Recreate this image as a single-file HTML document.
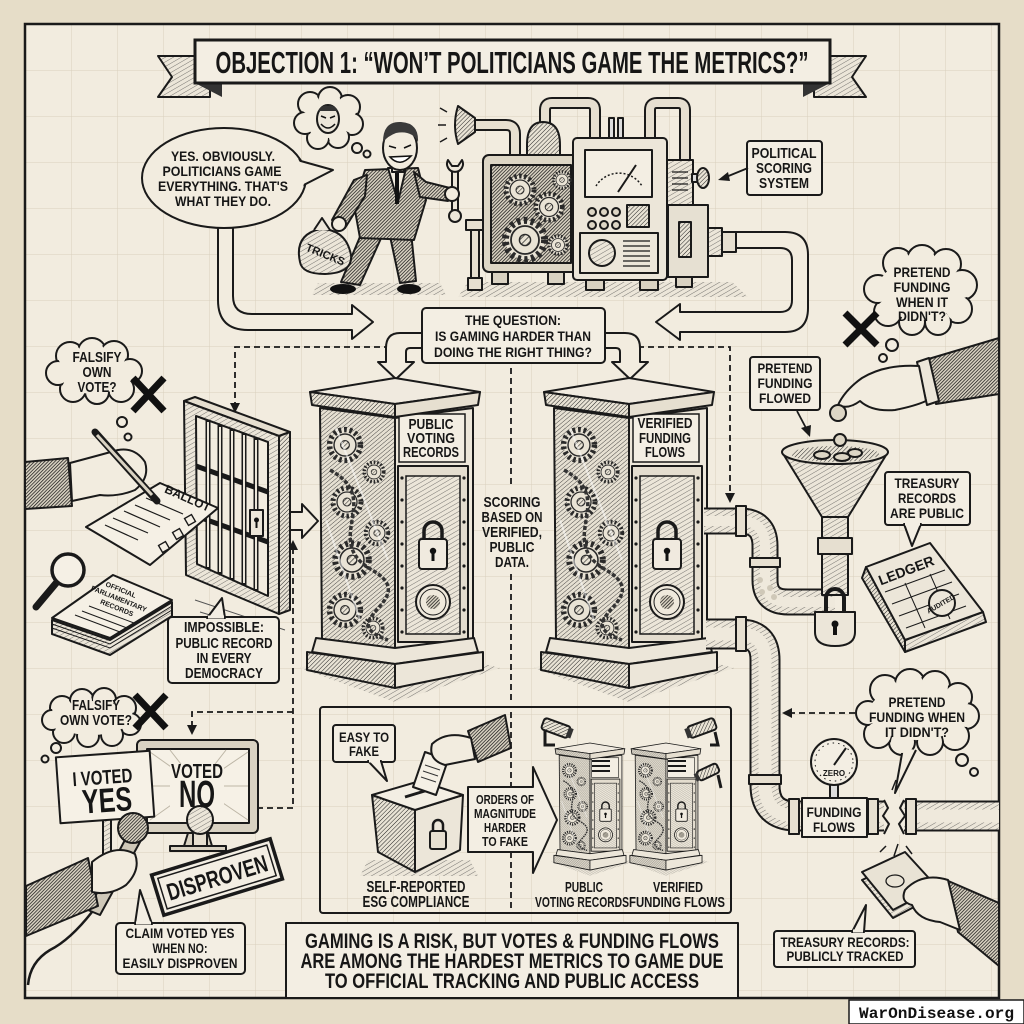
<!DOCTYPE html>
<html><head><meta charset="utf-8">
<style>
html,body{margin:0;padding:0;background:#e6ddc8;width:1024px;height:1024px;overflow:hidden}
svg{display:block}
.t{font-family:"Liberation Sans Narrow","Liberation Sans",sans-serif;font-weight:700;fill:#161616;text-anchor:middle}
.s{stroke:#1a1a1a;stroke-width:2;stroke-linejoin:round}
.d{fill:none;stroke:#1a1a1a;stroke-width:1.8;stroke-dasharray:6 4}
</style></head><body>
<svg width="1024" height="1024" viewBox="0 0 1024 1024" xmlns="http://www.w3.org/2000/svg">
<defs>
<pattern id="h" width="3" height="3" patternUnits="userSpaceOnUse" patternTransform="rotate(45)"><rect width="3" height="3" fill="#e9e3d5"/><line x1="0" y1="0" x2="0" y2="3" stroke="#222" stroke-width="1"/></pattern>
<pattern id="hd" width="2.4" height="2.4" patternUnits="userSpaceOnUse" patternTransform="rotate(45)"><rect width="2.4" height="2.4" fill="#d9d2c2"/><line x1="0" y1="0" x2="0" y2="2.4" stroke="#111" stroke-width="1.4"/></pattern>
<pattern id="hl" width="4" height="4" patternUnits="userSpaceOnUse" patternTransform="rotate(60)"><rect width="4" height="4" fill="#ece6d9"/><line x1="0" y1="0" x2="0" y2="4" stroke="#444" stroke-width="0.7"/></pattern>
<pattern id="hm" width="3.2" height="3.2" patternUnits="userSpaceOnUse" patternTransform="rotate(50)"><rect width="3.2" height="3.2" fill="#e6e0d2"/><line x1="0" y1="0" x2="0" y2="3.2" stroke="#333" stroke-width="0.85"/></pattern>
<pattern id="grid" width="46" height="46" patternUnits="userSpaceOnUse" x="26" y="25"><path d="M46,0 L46,46 M0,46 L46,46" stroke="#d9d0bd" stroke-width="1" fill="none"/></pattern>
<g id="gear"><circle r="14" fill="#e9e3d5" stroke="#2a2a2a" stroke-width="5" stroke-dasharray="2.5 2.5"/><circle r="10" fill="none" stroke="#2a2a2a" stroke-width="1.3"/><circle r="4" fill="url(#h)" stroke="#2a2a2a" stroke-width="1"/></g>
<g id="pl">
 <path d="M300,668 L395,702 L500,668 L470,660 L320,660Z" fill="url(#hl)"/>
 <polygon points="320,408 395,418 395,650 322,640" fill="url(#hm)" class="s"/>
 <use href="#gear" transform="translate(345,445) scale(1.1)"/>
 <use href="#gear" transform="translate(374,472) scale(0.7)"/>
 <use href="#gear" transform="translate(347,502)"/>
 <use href="#gear" transform="translate(352,560) scale(1.2)"/>
 <use href="#gear" transform="translate(377,533) scale(0.8)"/>
 <use href="#gear" transform="translate(345,610) scale(1.1)"/>
 <use href="#gear" transform="translate(373,628) scale(0.7)"/>
 <path d="M330,470 C385,500 320,540 372,570 S330,620 388,640" fill="none" stroke="#333" stroke-width="3.5" stroke-dasharray="4 2"/>
 <path d="M336,428 L388,560 M326,520 L360,620" stroke="#fff" stroke-width="2" opacity="0.5"/>
 <polygon points="395,418 473,408 473,640 395,650" fill="#ede7da" class="s"/>
 <rect x="399" y="414" width="66" height="48" fill="#f3eee3" stroke="#1a1a1a" stroke-width="1.5"/>
 <rect x="398" y="466" width="70" height="176" fill="#e4ddcf" class="s"/>
 <rect x="406" y="476" width="54" height="158" fill="url(#hl)" stroke="#1a1a1a" stroke-width="1.5"/>
 <g fill="#1a1a1a"><circle cx="402" cy="478" r="1.6"/><circle cx="402" cy="500" r="1.6"/><circle cx="402" cy="522" r="1.6"/><circle cx="402" cy="544" r="1.6"/><circle cx="402" cy="566" r="1.6"/><circle cx="402" cy="588" r="1.6"/><circle cx="402" cy="610" r="1.6"/><circle cx="402" cy="632" r="1.6"/><circle cx="464" cy="478" r="1.6"/><circle cx="464" cy="500" r="1.6"/><circle cx="464" cy="522" r="1.6"/><circle cx="464" cy="544" r="1.6"/><circle cx="464" cy="566" r="1.6"/><circle cx="464" cy="588" r="1.6"/><circle cx="464" cy="610" r="1.6"/><circle cx="464" cy="632" r="1.6"/></g>
 <path d="M424,542 L424,531 A9,9 0 0 1 442,531 L442,542" fill="none" stroke="#1a1a1a" stroke-width="3.5"/>
 <rect x="419" y="539" width="28" height="30" rx="3" fill="#f0eadf" class="s"/>
 <circle cx="433" cy="551" r="3.2" fill="#111"/><rect x="431.5" y="552" width="3" height="9" fill="#111"/>
 <circle cx="433" cy="602" r="17" fill="#efe9dc" class="s"/><circle cx="433" cy="602" r="13" fill="none" stroke="#1a1a1a" stroke-width="1"/><circle cx="433" cy="602" r="7" fill="url(#hd)"/>
 <polygon points="310,392 395,378 480,392 395,404" fill="#f0eadf" class="s"/>
 <polygon points="310,392 395,404 395,417 312,405" fill="url(#h)" class="s"/>
 <polygon points="395,404 480,392 478,405 395,417" fill="#e6dfd0" class="s"/>
 <polygon points="316,638 395,648 474,638 478,652 395,664 312,652" fill="#ece6d9" class="s"/>
 <polygon points="307,652 395,664 395,688 307,670" fill="url(#h)" class="s"/>
 <polygon points="395,664 483,652 483,670 395,688" fill="#ece6d9" class="s"/>
</g>
</defs>

<rect width="1024" height="1024" fill="#e6ddc8"/>
<rect x="25" y="24" width="974" height="974" fill="#f2ecdf"/>
<rect x="25" y="24" width="974" height="974" fill="url(#grid)"/>
<rect x="25" y="24" width="974" height="974" fill="none" stroke="#1a1a1a" stroke-width="2.5"/>

<!-- banner -->
<polygon points="158,56 210,56 210,97 158,97 172,77" fill="url(#hl)" class="s" stroke-width="2.5"/>
<polygon points="814,56 866,56 852,77 866,97 814,97" fill="url(#hl)" class="s" stroke-width="2.5"/>
<polygon points="195,83 222,97 222,83" fill="#333"/>
<polygon points="830,83 803,97 803,83" fill="#333"/>
<rect x="195" y="40" width="635" height="43" fill="#f3eee3" stroke="#1a1a1a" stroke-width="3"/>
<text class="t" x="512" y="73" font-size="31" textLength="593" lengthAdjust="spacingAndGlyphs">OBJECTION 1: “WON’T POLITICIANS GAME THE METRICS?”</text>

<!-- dashed connectors -->
<path class="d" d="M390,347 L235,347 L235,404"/>
<polygon points="230,403 240,403 235,413" fill="#1a1a1a"/>
<path class="d" d="M638,347 L730,347 L730,494"/>
<polygon points="725,493 735,493 730,503" fill="#1a1a1a"/>
<path class="d" d="M511,368 L511,484 M511,574 L511,700"/>
<path class="d" d="M293,548 L293,808 L258,808 M293,712 L192,712 L192,726"/>
<polygon points="288,550 298,550 293,540" fill="#1a1a1a"/>
<polygon points="187,725 197,725 192,735" fill="#1a1a1a"/>
<path class="d" d="M855,713 L790,713"/>
<polygon points="792,708 792,718 782,713" fill="#1a1a1a"/>

<!-- big hollow arrows -->
<path d="M218,222 L218,300 Q218,330 248,330 L352,330 L352,339 L373,322 L352,305 L352,314 L252,314 Q233,314 233,296 L233,222 Z" fill="#f2ecdf" class="s"/>
<path d="M735,232 L785,232 Q808,232 808,255 L808,308 Q808,332 785,332 L680,332 L680,340 L656,322 L680,304 L680,312 L780,312 Q792,312 792,300 L792,260 Q792,248 780,248 L735,248 Z" fill="#f2ecdf" class="s"/>

<!-- speech bubble -->
<ellipse cx="224" cy="178" rx="82" ry="50" fill="#f2ecdf" class="s" stroke-width="2.2"/>
<polygon points="290,158 333,170 294,190" fill="#f2ecdf" class="s" stroke-width="2.2"/>
<ellipse cx="224" cy="178" rx="80.5" ry="48.5" fill="#f2ecdf"/>
<polygon points="284,162 296,164 290,186 282,186" fill="#f2ecdf"/>

<!-- devil thought cloud -->
<g fill="#f2ecdf" class="s"><circle cx="310" cy="104" r="12"/><circle cx="330" cy="99" r="12"/><circle cx="348" cy="107" r="12"/><circle cx="352" cy="124" r="11"/><circle cx="338" cy="137" r="11"/><circle cx="318" cy="138" r="11"/><circle cx="305" cy="123" r="11"/></g>
<g fill="#f2ecdf"><circle cx="310" cy="104" r="10"/><circle cx="330" cy="99" r="10"/><circle cx="348" cy="107" r="10"/><circle cx="352" cy="124" r="9"/><circle cx="338" cy="137" r="9"/><circle cx="318" cy="138" r="9"/><circle cx="305" cy="123" r="9"/><ellipse cx="328" cy="119" rx="24" ry="19"/></g>
<ellipse cx="328" cy="119" rx="11" ry="14" fill="#ece6d9" class="s" stroke-width="1.5"/>
<path d="M318,111 Q322,104 328,106 Q334,104 338,111" fill="#333"/>
<path d="M321,116 L326,118 M335,116 L330,118 M321,124 Q328,132 335,124" fill="none" stroke="#111" stroke-width="1.5"/>
<circle cx="357" cy="148" r="5" fill="#f2ecdf" class="s" stroke-width="1.5"/>
<circle cx="367" cy="154" r="3.5" fill="#f2ecdf" class="s" stroke-width="1.5"/>

<!-- man -->
<path d="M318,283 L440,283 L446,295 L312,295 Z" fill="url(#hl)"/>
<polygon points="362,232 382,236 360,285 341,282" fill="url(#hd)" class="s"/>
<polygon points="390,236 411,232 416,281 400,283" fill="url(#hd)" class="s"/>
<ellipse cx="343" cy="289" rx="13" ry="5" fill="#111"/>
<ellipse cx="409" cy="289" rx="12" ry="5" fill="#111"/>
<polygon points="365,170 418,168 426,200 414,240 360,238 354,205" fill="url(#hd)" class="s"/>
<polygon points="388,168 406,168 398,202" fill="#f2ecdf" class="s" stroke-width="1.2"/>
<line x1="397" y1="172" x2="397" y2="204" stroke="#111" stroke-width="4"/>
<polygon points="367,175 354,180 332,220 345,228 365,196" fill="url(#hd)" class="s"/>
<polygon points="414,172 426,182 450,188 448,201 420,197" fill="url(#hd)" class="s"/>
<path d="M300,262 Q294,235 320,229 Q346,229 351,255 Q353,273 325,274 Q302,274 300,262 Z" fill="url(#hl)" class="s"/>
<path d="M314,230 L322,218 L330,230" fill="#ece6d9" class="s" stroke-width="1.5"/>
<text class="t" font-size="11" transform="translate(324,258) rotate(22)">TRICKS</text>
<circle cx="339" cy="224" r="7" fill="#f2ecdf" class="s"/>
<rect x="452" y="168" width="6" height="46" fill="#ece6d9" class="s" stroke-width="1.5"/>
<path d="M448,160 A8,8 0 1 0 462,160 L458,166 L452,166 Z" fill="#ece6d9" class="s" stroke-width="1.8"/>
<circle cx="455" cy="216" r="6" fill="#ece6d9" class="s" stroke-width="1.8"/>
<circle cx="452" cy="194" r="7" fill="#f2ecdf" class="s"/>
<rect x="392" y="160" width="12" height="12" fill="#f2ecdf" class="s" stroke-width="1.5"/>
<ellipse cx="400" cy="148" rx="17" ry="22" fill="#f2ecdf" class="s"/>
<path d="M383,142 Q383,121 401,122 Q419,123 418,142 Q412,130 396,133 Q388,136 383,142 Z" fill="#3a3a3a"/>
<path d="M389,146 L396,148 M404,148 L411,145 M390,157 Q400,168 411,156 Z" fill="#fff" stroke="#111" stroke-width="1.6"/>

<!-- machine -->
<path d="M468,282 L732,282 L748,297 L458,297 Z" fill="url(#hl)"/>
<path d="M473,125 L506,125 Q515,125 515,134 L515,158" fill="none" stroke="#1a1a1a" stroke-width="12"/>
<path d="M473,125 L506,125 Q515,125 515,134 L515,158" fill="none" stroke="#e6dfd0" stroke-width="8"/>
<path d="M458,106 L475,118 L475,132 L458,144 Q452,125 458,106 Z" fill="url(#h)" class="s"/>
<path d="M447,112 L440,108 M446,125 L438,125 M447,138 L440,142" stroke="#1a1a1a" stroke-width="1.5"/>
<path d="M545,142 L545,110 Q545,103 552,103 L588,103 Q595,103 595,110 L595,142" fill="none" stroke="#1a1a1a" stroke-width="12"/>
<path d="M545,142 L545,110 Q545,103 552,103 L588,103 Q595,103 595,110 L595,142" fill="none" stroke="#e6dfd0" stroke-width="8"/>
<path d="M650,142 L650,110 Q650,103 657,103 L678,103 Q685,103 685,110 L685,162" fill="none" stroke="#1a1a1a" stroke-width="12"/>
<path d="M650,142 L650,110 Q650,103 657,103 L678,103 Q685,103 685,110 L685,162" fill="none" stroke="#e6dfd0" stroke-width="8"/>
<path d="M527,157 L527,145 Q527,122 543,122 Q560,122 560,145 L560,157 Z" fill="url(#h)" class="s"/>
<rect x="609" y="118" width="5" height="20" fill="#ddd" class="s" stroke-width="1.5"/>
<rect x="618" y="118" width="5" height="20" fill="#ddd" class="s" stroke-width="1.5"/>
<path d="M475,226 L475,285" stroke="#1a1a1a" stroke-width="10"/>
<path d="M475,226 L475,285" stroke="#e6dfd0" stroke-width="6"/>
<rect x="466" y="220" width="20" height="10" fill="#e6dfd0" class="s"/>
<rect x="468" y="278" width="14" height="12" fill="#e6dfd0" class="s"/>
<rect x="483" y="155" width="95" height="117" rx="6" fill="#ddd6c5" class="s" stroke-width="2.5"/>
<rect x="491" y="165" width="80" height="98" fill="url(#hd)" class="s"/>
<use href="#gear" transform="translate(520,190)"/>
<use href="#gear" transform="translate(549,207) scale(0.95)"/>
<use href="#gear" transform="translate(525,240) scale(1.4)"/>
<use href="#gear" transform="translate(558,245) scale(0.65)"/>
<use href="#gear" transform="translate(562,180) scale(0.6)"/>
<rect x="573" y="138" width="94" height="142" rx="4" fill="#ece6d9" class="s" stroke-width="2.5"/>
<rect x="585" y="150" width="67" height="47" fill="#f3eee3" class="s"/>
<path d="M596,186 A27,27 0 0 1 642,186" fill="none" stroke="#1a1a1a" stroke-width="1.5" stroke-dasharray="2 2"/>
<line x1="618" y1="192" x2="636" y2="165" stroke="#1a1a1a" stroke-width="2"/>
<g fill="#ddd6c5" class="s" stroke-width="1.5"><circle cx="592" cy="212" r="4"/><circle cx="604" cy="212" r="4"/><circle cx="616" cy="212" r="4"/><circle cx="592" cy="225" r="4"/><circle cx="604" cy="225" r="4"/><circle cx="616" cy="225" r="4"/></g>
<rect x="627" y="205" width="22" height="22" fill="url(#h)" class="s" stroke-width="1.5"/>
<rect x="580" y="233" width="78" height="40" fill="#ece6d9" class="s"/>
<circle cx="602" cy="253" r="13" fill="url(#hl)" class="s"/>
<path d="M623,241 H650 M623,246 H650 M623,251 H650 M623,256 H650 M623,261 H650 M623,266 H650" stroke="#1a1a1a" stroke-width="1.2"/>
<rect x="667" y="160" width="26" height="115" fill="url(#hl)" class="s"/>
<path d="M672,172 H688 M672,178 H688 M672,184 H688 M672,190 H688" stroke="#1a1a1a" stroke-width="1.3"/>
<rect x="668" y="205" width="40" height="72" fill="#e6e0d2" class="s"/>
<rect x="679" y="222" width="12" height="35" fill="url(#h)" class="s" stroke-width="1.5"/>
<rect x="692" y="174" width="8" height="8" fill="#ddd" class="s" stroke-width="1.5"/>
<ellipse cx="703" cy="178" rx="6" ry="10" fill="url(#h)" class="s"/>
<rect x="708" y="228" width="14" height="28" fill="url(#hl)" class="s"/>
<rect x="722" y="232" width="14" height="20" fill="#e6dfd0" class="s"/>
<g fill="#d9d2c2" class="s"><rect x="492" y="272" width="16" height="12"/><rect x="548" y="272" width="16" height="12"/><rect x="586" y="280" width="18" height="10"/><rect x="640" y="280" width="18" height="10"/><rect x="676" y="277" width="16" height="10"/></g>

<!-- political scoring box -->
<rect x="747" y="141" width="75" height="54" rx="3" fill="#f3eee3" class="s"/>
<line x1="748" y1="168" x2="726" y2="177" stroke="#1a1a1a" stroke-width="1.8"/>
<polygon points="718,180 728,172 730,181" fill="#1a1a1a"/>

<!-- question box & arrows -->
<path d="M422,333 L400,333 Q386,333 386,348 L386,362 L378,362 L396,379 L414,362 L406,362 L406,352 Q406,348 410,348 L422,348 Z" fill="#f2ecdf" class="s"/>
<path d="M605,333 L625,333 Q640,333 640,348 L640,362 L648,362 L630,379 L612,362 L620,362 L620,352 Q620,348 616,348 L605,348 Z" fill="#f2ecdf" class="s"/>
<rect x="422" y="308" width="183" height="55" rx="4" fill="#f3eee3" class="s" stroke-width="2.2"/>

<!-- pillars -->
<use href="#pl"/>
<use href="#pl" x="234"/>

<!-- arrow jail->pillar -->
<polygon points="285,512 302,512 302,504 318,521 302,538 302,530 285,530" fill="#f2ecdf" class="s"/>

<!-- pipes -->
<path d="M706,634 L740,634 Q765,634 765,660 L765,785 Q765,816 796,816 L999,816" fill="none" stroke="#1a1a1a" stroke-width="31"/>
<path d="M706,634 L740,634 Q765,634 765,660 L765,785 Q765,816 796,816 L999,816" fill="none" stroke="url(#hl)" stroke-width="27"/>
<path d="M706,634 L740,634 Q765,634 765,660 L765,785 Q765,816 796,816 L999,816" fill="none" stroke="#efe9dc" stroke-width="13"/>
<path d="M704,521 L740,521 Q765,521 765,546 L765,580 Q765,602 788,602 L835,602" fill="none" stroke="#1a1a1a" stroke-width="27"/>
<path d="M704,521 L740,521 Q765,521 765,546 L765,580 Q765,602 788,602 L835,602" fill="none" stroke="url(#hl)" stroke-width="23"/>
<path d="M704,521 L740,521 Q765,521 765,546 L765,580 Q765,602 788,602 L835,602" fill="none" stroke="#efe9dc" stroke-width="10"/>
<g fill="#e6dfd0" class="s"><rect x="736" y="506" width="10" height="30"/><rect x="750" y="558" width="30" height="9"/><rect x="736" y="617" width="10" height="34"/><rect x="749" y="775" width="32" height="9"/><rect x="789" y="799" width="10" height="35"/><rect x="868" y="799" width="10" height="35"/><rect x="906" y="799" width="10" height="35"/></g>
<g fill="#cfc8b8"><circle cx="760" cy="580" r="3"/><circle cx="770" cy="588" r="3"/><circle cx="762" cy="592" r="3"/><circle cx="774" cy="597" r="3"/></g>
<rect x="884" y="797" width="20" height="38" fill="#f2ecdf"/>
<path d="M884,800 L888,808 L883,816 L889,824 L884,834 M904,800 L900,808 L905,816 L899,824 L904,834" fill="none" stroke="#1a1a1a" stroke-width="2"/>
<path d="M892,790 L896,780 M898,844 L894,856 M906,846 L912,854 M886,846 L880,852" stroke="#1a1a1a" stroke-width="1.5"/>
<rect x="802" y="798" width="65" height="39" fill="#f3eee3" class="s"/>
<rect x="830" y="783" width="8" height="15" fill="#ddd" class="s" stroke-width="1.5"/>
<circle cx="834" cy="762" r="23" fill="#f3eee3" class="s" stroke-width="2.5"/>
<circle cx="834" cy="762" r="19" fill="none" stroke="#1a1a1a" stroke-width="1" stroke-dasharray="1.5 4"/>
<line x1="834" y1="765" x2="846" y2="748" stroke="#1a1a1a" stroke-width="2"/>
<text class="t" x="834" y="776" font-size="8">ZERO</text>

<!-- funnel -->
<rect x="822" y="515" width="26" height="80" fill="url(#hl)" class="s"/>
<rect x="818" y="538" width="34" height="16" fill="#e6dfd0" class="s"/>
<polygon points="782,452 888,452 848,517 822,517" fill="url(#hl)" class="s"/>
<ellipse cx="835" cy="452" rx="53" ry="12" fill="#e9e3d5" class="s"/>
<ellipse cx="835" cy="454" rx="44" ry="8" fill="url(#h)"/>
<g fill="#ddd6c5" class="s" stroke-width="1.2"><ellipse cx="822" cy="455" rx="8" ry="4"/><ellipse cx="842" cy="457" rx="8" ry="4"/><ellipse cx="855" cy="453" rx="7" ry="4"/></g>
<circle cx="840" cy="440" r="6" fill="#ddd6c5" class="s" stroke-width="1.5"/>
<path d="M826,612 L826,598 A9,9 0 0 1 844,598 L844,612" fill="none" stroke="#1a1a1a" stroke-width="4"/>
<path d="M815,612 L855,612 L855,632 Q855,646 835,646 Q815,646 815,632 Z" fill="#ece6d9" class="s"/>
<circle cx="835" cy="624" r="3.5" fill="#111"/><rect x="833" y="625" width="4" height="10" fill="#111"/>

<!-- top right hand and cloud -->
<g fill="#f2ecdf" class="s"><circle cx="898" cy="263" r="15"/><circle cx="922" cy="260" r="15"/><circle cx="946" cy="264" r="15"/><circle cx="962" cy="285" r="15"/><circle cx="958" cy="309" r="14"/><circle cx="938" cy="322" r="13"/><circle cx="912" cy="322" r="13"/><circle cx="888" cy="312" r="14"/><circle cx="878" cy="289" r="14"/></g>
<g fill="#f2ecdf"><circle cx="898" cy="263" r="13"/><circle cx="922" cy="260" r="13"/><circle cx="946" cy="264" r="13"/><circle cx="962" cy="285" r="13"/><circle cx="958" cy="309" r="12"/><circle cx="938" cy="322" r="11"/><circle cx="912" cy="322" r="11"/><circle cx="888" cy="312" r="12"/><circle cx="878" cy="289" r="12"/><ellipse cx="920" cy="290" rx="42" ry="30"/></g>
<circle cx="892" cy="345" r="6" fill="#f2ecdf" class="s" stroke-width="1.6"/>
<circle cx="883" cy="358" r="4" fill="#f2ecdf" class="s" stroke-width="1.6"/>
<path d="M845,313 L877,345 M877,313 L845,345" stroke="#111" stroke-width="7"/>
<polygon points="925,360 999,338 999,394 936,404" fill="url(#hd)" class="s"/>
<polygon points="917,362 929,358 939,401 927,405" fill="#ece6d9" class="s"/>
<path d="M919,366 Q885,364 862,378 Q845,390 838,405 Q848,410 860,401 Q872,412 895,410 Q915,406 926,401 Z" fill="#f2ecdf" class="s"/>
<circle cx="838" cy="413" r="8" fill="#ddd6c5" class="s" stroke-width="1.6"/>
<rect x="750" y="357" width="70" height="53" rx="3" fill="#f3eee3" class="s"/>
<line x1="797" y1="411" x2="806" y2="428" stroke="#1a1a1a" stroke-width="1.8"/>
<polygon points="801,428 811,425 810,437" fill="#1a1a1a"/>

<!-- treasury & ledger -->
<rect x="885" y="472" width="85" height="53" rx="3" fill="#f3eee3" class="s"/>
<polygon points="904,524 912,546 921,524" fill="#f3eee3" class="s"/>
<line x1="905" y1="524" x2="920" y2="524" stroke="#f3eee3" stroke-width="3"/>
<polygon points="866,567 905,640 905,652 862,578" fill="url(#h)" class="s"/>
<polygon points="905,640 983,612 986,622 905,652" fill="url(#hl)" class="s"/>
<polygon points="866,567 930,543 983,612 905,640" fill="#ece6d9" class="s" stroke-width="2.2"/>
<path d="M885,592 L945,570 M892,604 L952,582 M899,616 L959,594 M906,628 L966,606 M905,583 L925,628 M930,574 L950,619" stroke="#1a1a1a" stroke-width="1" fill="none"/>
<circle cx="942" cy="603" r="13" fill="#ece6d9" class="s" stroke-width="1.8"/>
<text class="t" font-size="7" transform="translate(942,606) rotate(-30)">AUDITED</text>
<text class="t" font-size="14" transform="translate(908,575) rotate(-21)">LEDGER</text>

<!-- lower right cloud -->
<g fill="#f2ecdf" class="s"><circle cx="885" cy="690" r="15"/><circle cx="910" cy="684" r="15"/><circle cx="935" cy="686" r="15"/><circle cx="958" cy="697" r="14"/><circle cx="966" cy="716" r="13"/><circle cx="955" cy="736" r="14"/><circle cx="930" cy="742" r="13"/><circle cx="902" cy="742" r="13"/><circle cx="878" cy="734" r="14"/><circle cx="868" cy="713" r="12"/></g>
<path d="M903,748 L895,793 L916,750" fill="#f2ecdf" class="s"/>
<g fill="#f2ecdf"><circle cx="885" cy="690" r="13"/><circle cx="910" cy="684" r="13"/><circle cx="935" cy="686" r="13"/><circle cx="958" cy="697" r="12"/><circle cx="966" cy="716" r="11"/><circle cx="955" cy="736" r="12"/><circle cx="930" cy="742" r="11"/><circle cx="902" cy="742" r="11"/><circle cx="878" cy="734" r="12"/><circle cx="868" cy="713" r="10"/><ellipse cx="917" cy="713" rx="48" ry="27"/></g>
<circle cx="962" cy="760" r="6" fill="#f2ecdf" class="s" stroke-width="1.6"/>
<circle cx="974" cy="772" r="4" fill="#f2ecdf" class="s" stroke-width="1.6"/>

<!-- money hand -->
<polygon points="862,880 905,860 937,895 893,918" fill="url(#hl)" class="s"/>
<polygon points="862,872 905,852 937,887 893,910" fill="#e9e3d5" class="s"/>
<ellipse cx="895" cy="881" rx="9" ry="6" fill="none" stroke="#1a1a1a" stroke-width="1.3"/>
<polygon points="946,880 999,903 999,966 958,932" fill="url(#hd)" class="s"/>
<path d="M948,880 Q922,872 905,890 Q900,902 912,905 Q918,920 940,922 L960,930 Z" fill="#f2ecdf" class="s"/>
<rect x="774" y="931" width="141" height="36" rx="3" fill="#f3eee3" class="s"/>
<polygon points="852,932 866,905 864,932" fill="#f3eee3" class="s"/>
<line x1="853" y1="931" x2="863" y2="931" stroke="#f3eee3" stroke-width="3"/>

<!-- left: falsify cloud 1 -->
<g fill="#f2ecdf" class="s"><circle cx="70" cy="356" r="14"/><circle cx="92" cy="352" r="14"/><circle cx="114" cy="355" r="14"/><circle cx="130" cy="371" r="12"/><circle cx="121" cy="389" r="13"/><circle cx="97" cy="392" r="12"/><circle cx="73" cy="389" r="13"/><circle cx="58" cy="373" r="12"/></g>
<g fill="#f2ecdf"><circle cx="70" cy="356" r="12"/><circle cx="92" cy="352" r="12"/><circle cx="114" cy="355" r="12"/><circle cx="130" cy="371" r="10"/><circle cx="121" cy="389" r="11"/><circle cx="97" cy="392" r="10"/><circle cx="73" cy="389" r="11"/><circle cx="58" cy="373" r="10"/><ellipse cx="94" cy="372" rx="34" ry="22"/></g>
<path d="M133,378 L164,411 M164,378 L133,411" stroke="#111" stroke-width="7"/>
<circle cx="122" cy="422" r="5" fill="#f2ecdf" class="s" stroke-width="1.6"/>
<circle cx="128" cy="437" r="3.5" fill="#f2ecdf" class="s" stroke-width="1.6"/>

<!-- jail door -->
<polygon points="184,401 195,397 290,432 279,436" fill="#e6dfd0" class="s"/>
<polygon points="279,436 290,432 290,610 279,614" fill="url(#h)" class="s"/>
<path d="M184,401 L279,436 L279,614 L186,575 Z M196,416 L268,442 L268,596 L197,564 Z" fill="url(#hl)" fill-rule="evenodd" class="s"/>
<g stroke="#1a1a1a" stroke-width="5"><line x1="208" y1="420" x2="208" y2="569"/><line x1="220" y1="425" x2="220" y2="574"/><line x1="232" y1="429" x2="232" y2="580"/><line x1="244" y1="433" x2="244" y2="585"/><line x1="256" y1="438" x2="256" y2="591"/><line x1="196" y1="466" x2="268" y2="492"/><line x1="196" y1="516" x2="268" y2="542"/></g>
<g stroke="#ece6d9" stroke-width="2"><line x1="208" y1="422" x2="208" y2="567"/><line x1="220" y1="427" x2="220" y2="572"/><line x1="232" y1="431" x2="232" y2="578"/><line x1="244" y1="435" x2="244" y2="583"/><line x1="256" y1="440" x2="256" y2="589"/></g>
<rect x="250" y="510" width="13" height="26" fill="#ece6d9" class="s" stroke-width="1.5"/>
<circle cx="256.5" cy="520" r="2.5" fill="#111"/><rect x="255.5" y="521" width="2" height="7" fill="#111"/>
<path d="M195,600 L285,630 M200,612 L280,636" stroke="#555" stroke-width="1"/>

<!-- hand with pen and ballot -->
<polygon points="25,462 68,458 72,506 25,509" fill="url(#hd)" class="s"/>
<polygon points="86,527 160,483 218,508 150,565" fill="#f5f0e5" class="s"/>
<path d="M146,498 L183,514 M135,505 L170,520 M124,511 L160,527 M113,518 L148,533 M105,525 L138,540" stroke="#1a1a1a" stroke-width="1.2"/>
<g fill="#f5f0e5" stroke="#1a1a1a" stroke-width="1.4"><rect x="186" y="516" width="8" height="8" transform="rotate(-30 190 520)"/><rect x="174" y="530" width="8" height="8" transform="rotate(-30 178 534)"/><rect x="160" y="543" width="8" height="8" transform="rotate(-30 164 547)"/></g>
<text class="t" font-size="12" transform="translate(186,502) rotate(24)">BALLOT</text>
<path d="M70,463 Q100,455 118,450 Q135,447 145,462 Q150,478 135,490 Q118,497 100,495 L72,501 Z" fill="#f2ecdf" class="s"/>
<line x1="95" y1="432" x2="157" y2="501" stroke="#1a1a1a" stroke-width="7" stroke-linecap="round"/>
<line x1="97" y1="435" x2="152" y2="495" stroke="#d9d2c2" stroke-width="3"/>

<!-- magnifier and stack -->
<line x1="57" y1="582" x2="36" y2="607" stroke="#1a1a1a" stroke-width="7" stroke-linecap="round"/>
<circle cx="68" cy="570" r="16" fill="#f5f0e5" stroke="#1a1a1a" stroke-width="3.5"/>
<polygon points="52,634 110,655 172,616 172,602 110,640 52,620" fill="url(#hl)" class="s"/>
<path d="M52,624 L110,644 L172,606 M52,628 L110,648 L172,610" fill="none" stroke="#1a1a1a" stroke-width="1"/>
<polygon points="52,618 113,575 172,600 110,638" fill="#f5f0e5" class="s"/>
<text class="t" font-size="7" transform="translate(120,592) rotate(22)">OFFICIAL</text>
<text class="t" font-size="7" transform="translate(118,601) rotate(22)">PARLIAMENTARY</text>
<text class="t" font-size="7" transform="translate(116,610) rotate(22)">RECORDS</text>
<path d="M75,615 L120,632 M82,611 L127,628 M89,606 L134,623" stroke="#1a1a1a" stroke-width="1"/>

<!-- impossible box -->
<rect x="168" y="617" width="111" height="66" rx="4" fill="#f3eee3" class="s"/>
<polygon points="207,618 222,598 225,618" fill="#f3eee3" class="s"/>
<line x1="208" y1="617" x2="224" y2="617" stroke="#f3eee3" stroke-width="3"/>

<!-- falsify cloud 2 -->
<g fill="#f2ecdf" class="s"><circle cx="62" cy="708" r="12"/><circle cx="82" cy="701" r="12"/><circle cx="104" cy="700" r="12"/><circle cx="124" cy="708" r="12"/><circle cx="130" cy="724" r="11"/><circle cx="112" cy="735" r="11"/><circle cx="88" cy="736" r="11"/><circle cx="64" cy="732" r="11"/><circle cx="52" cy="720" r="10"/></g>
<g fill="#f2ecdf"><circle cx="62" cy="708" r="10"/><circle cx="82" cy="701" r="10"/><circle cx="104" cy="700" r="10"/><circle cx="124" cy="708" r="10"/><circle cx="130" cy="724" r="9"/><circle cx="112" cy="735" r="9"/><circle cx="88" cy="736" r="9"/><circle cx="64" cy="732" r="9"/><circle cx="52" cy="720" r="8"/><ellipse cx="91" cy="718" rx="40" ry="17"/></g>
<path d="M135,695 L166,728 M166,695 L135,728" stroke="#111" stroke-width="7"/>
<circle cx="56" cy="748" r="5" fill="#f2ecdf" class="s" stroke-width="1.6"/>
<circle cx="45" cy="759" r="3.5" fill="#f2ecdf" class="s" stroke-width="1.6"/>

<!-- monitor -->
<rect x="137" y="740" width="121" height="93" rx="5" fill="#d9d2c2" class="s" stroke-width="2.5"/>
<rect x="147" y="749" width="102" height="74" fill="#f6f1e6" class="s" stroke-width="1.5"/>
<path d="M198,786 L150,752 M198,786 L248,752 M198,786 L150,820 M198,786 L248,820 M198,786 L170,750 M198,786 L226,750 M198,786 L150,786 M198,786 L248,786" stroke="#bdb6a6" stroke-width="1"/>
<polygon points="188,833 208,833 212,846 184,846" fill="#d9d2c2" class="s"/>
<rect x="170" y="846" width="56" height="5" fill="#d9d2c2" class="s" stroke-width="1.5"/>
<rect x="170" y="764" width="54" height="50" fill="#f6f1e6"/>

<!-- sign & mic -->
<rect x="103" y="818" width="8" height="54" fill="url(#hl)" class="s"/>
<g transform="rotate(-4 105 786)">
<rect x="58" y="754" width="94" height="66" fill="#f6f1e6" class="s" stroke-width="2.5"/>
<text class="t" x="103" y="784" font-size="20" textLength="60" lengthAdjust="spacingAndGlyphs">I VOTED</text>
<text class="t" x="106" y="812" font-size="34" textLength="50" lengthAdjust="spacingAndGlyphs">YES</text>
</g>
<polygon points="126,838 140,842 100,915 88,910" fill="#cfc8b8" class="s"/>
<circle cx="133" cy="828" r="15" fill="url(#hd)" class="s"/>
<path d="M92,912 Q70,940 50,950 Q30,962 28,985" fill="none" stroke="#1a1a1a" stroke-width="2.5"/>
<polygon points="26,886 88,858 98,906 26,936" fill="url(#hd)" class="s"/>
<path d="M92,862 Q115,843 135,854 Q141,870 126,885 Q110,896 92,892 Z" fill="#f2ecdf" class="s"/>

<!-- stamp -->
<rect x="193" y="828" width="14" height="18" fill="#e6dfd0" class="s"/>
<ellipse cx="200" cy="820" rx="13" ry="14" fill="url(#hl)" class="s"/>
<g transform="rotate(-17 217 877)">
<rect x="155" y="856" width="124" height="42" fill="#f3eee3" stroke="#1a1a1a" stroke-width="3.5"/>
<rect x="160" y="861" width="114" height="32" fill="none" stroke="#1a1a1a" stroke-width="1.5"/>
<text class="t" x="217" y="886" font-size="24" textLength="104" lengthAdjust="spacingAndGlyphs">DISPROVEN</text>
</g>

<!-- claim box -->
<rect x="116" y="923" width="129" height="51" rx="4" fill="#f3eee3" class="s"/>
<polygon points="135,924 140,890 152,924" fill="#f3eee3" class="s"/>
<line x1="136" y1="923" x2="151" y2="923" stroke="#f3eee3" stroke-width="3"/>

<!-- bottom middle comparison box -->
<rect x="320" y="707" width="411" height="206" rx="3" fill="none" class="s" stroke-width="2.2"/>
<path class="d" d="M511,712 L511,910"/>
<rect x="333" y="725" width="62" height="37" rx="3" fill="#f3eee3" class="s"/>
<polygon points="368,761 387,781 381,761" fill="#f3eee3" class="s"/>
<line x1="369" y1="761" x2="380" y2="761" stroke="#f3eee3" stroke-width="3"/>
<path d="M368,860 L470,860 L478,876 L360,876 Z" fill="url(#hl)"/>
<polygon points="372,795 415,810 415,872 378,852" fill="url(#h)" class="s"/>
<polygon points="415,810 463,795 460,850 415,872" fill="#ece6d9" class="s"/>
<polygon points="372,795 420,781 463,795 415,810" fill="#f3eee3" class="s"/>
<line x1="405" y1="797" x2="428" y2="790" stroke="#1a1a1a" stroke-width="3"/>
<path d="M433,833 L433,825 A5,5 0 0 1 443,825 L443,833" fill="none" stroke="#1a1a1a" stroke-width="2.5"/>
<rect x="430" y="831" width="16" height="18" rx="2" fill="#e6dfd0" class="s" stroke-width="1.5"/>
<polygon points="425,752 448,760 436,795 413,787" fill="#f5f0e5" class="s"/>
<path d="M425,765 L440,770 M423,771 L438,776 M421,777 L436,782" stroke="#333" stroke-width="1"/>
<polygon points="468,731 505,715 511,748 478,762" fill="url(#hd)" class="s"/>
<path d="M471,738 Q447,730 432,744 Q428,760 445,765 L475,759 Z" fill="#f2ecdf" class="s"/>

<polygon points="468,787 533,787 533,767 557,820 533,873 533,852 468,852" fill="#f3eee3" class="s"/>

<use href="#pl" transform="translate(428,588) scale(0.41)"/>
<use href="#pl" transform="translate(504,588) scale(0.41)"/>
<g fill="#1a1a1a"><rect x="592" y="760" width="18" height="2"/><rect x="592" y="765" width="18" height="2"/><rect x="592" y="770" width="18" height="2"/><rect x="668" y="760" width="18" height="2"/><rect x="668" y="765" width="18" height="2"/><rect x="668" y="770" width="18" height="2"/></g>
<g transform="translate(556,728) rotate(20)"><rect x="-14" y="-6" width="28" height="12" rx="3" fill="url(#h)" class="s" stroke-width="1.5"/><rect x="12" y="-5" width="5" height="10" fill="#333"/></g>
<path d="M545,730 L545,745 L555,745" fill="none" stroke="#1a1a1a" stroke-width="3"/>
<g transform="translate(702,728) rotate(-20)"><rect x="-14" y="-6" width="28" height="12" rx="3" fill="url(#h)" class="s" stroke-width="1.5"/><rect x="-17" y="-5" width="5" height="10" fill="#333"/></g>
<path d="M715,732 L718,745 L710,745" fill="none" stroke="#1a1a1a" stroke-width="3"/>
<g transform="translate(708,772) rotate(-25)"><rect x="-11" y="-5" width="22" height="10" rx="3" fill="url(#h)" class="s" stroke-width="1.5"/><rect x="-14" y="-4" width="4" height="8" fill="#333"/></g>
<path d="M718,775 L721,788" fill="none" stroke="#1a1a1a" stroke-width="3"/>

<!-- summary box -->
<rect x="286" y="923" width="452" height="75" fill="#f3eee3" class="s" stroke-width="2.5"/>

<!-- watermark -->
<rect x="849" y="1000" width="175" height="24" fill="#ffffff" stroke="#1a1a1a" stroke-width="1.5"/>
<text x="859" y="1018" font-family="'Liberation Mono',monospace" font-weight="700" font-size="16" fill="#111" textLength="155" lengthAdjust="spacingAndGlyphs">WarOnDisease.org</text>

<!-- texts -->
<g class="t">
<text class="t" x="223" y="161" font-size="14" textLength="104" lengthAdjust="spacingAndGlyphs">YES. OBVIOUSLY.</text>
<text class="t" x="222" y="176" font-size="14" textLength="119" lengthAdjust="spacingAndGlyphs">POLITICIANS GAME</text>
<text class="t" x="223" y="191" font-size="14" textLength="130" lengthAdjust="spacingAndGlyphs">EVERYTHING. THAT'S</text>
<text class="t" x="223" y="206" font-size="14" textLength="96" lengthAdjust="spacingAndGlyphs">WHAT THEY DO.</text>

<text class="t" x="784" y="158" font-size="15" textLength="65" lengthAdjust="spacingAndGlyphs">POLITICAL</text>
<text class="t" x="784" y="173" font-size="15" textLength="56" lengthAdjust="spacingAndGlyphs">SCORING</text>
<text class="t" x="784" y="188" font-size="15" textLength="50" lengthAdjust="spacingAndGlyphs">SYSTEM</text>

<text class="t" x="513" y="325" font-size="14" textLength="96" lengthAdjust="spacingAndGlyphs">THE QUESTION:</text>
<text class="t" x="513" y="341" font-size="14" textLength="156" lengthAdjust="spacingAndGlyphs">IS GAMING HARDER THAN</text>
<text class="t" x="513" y="357" font-size="14" textLength="158" lengthAdjust="spacingAndGlyphs">DOING THE RIGHT THING?</text>

<text class="t" x="431" y="429" font-size="15" textLength="45" lengthAdjust="spacingAndGlyphs">PUBLIC</text>
<text class="t" x="431" y="443" font-size="15" textLength="48" lengthAdjust="spacingAndGlyphs">VOTING</text>
<text class="t" x="431" y="457" font-size="15" textLength="56" lengthAdjust="spacingAndGlyphs">RECORDS</text>
<text class="t" x="665" y="428" font-size="15" textLength="55" lengthAdjust="spacingAndGlyphs">VERIFIED</text>
<text class="t" x="665" y="443" font-size="15" textLength="52" lengthAdjust="spacingAndGlyphs">FUNDING</text>
<text class="t" x="665" y="457" font-size="15" textLength="40" lengthAdjust="spacingAndGlyphs">FLOWS</text>

<text class="t" x="512" y="507" font-size="15" textLength="57" lengthAdjust="spacingAndGlyphs">SCORING</text>
<text class="t" x="512" y="522" font-size="15" textLength="61" lengthAdjust="spacingAndGlyphs">BASED ON</text>
<text class="t" x="512" y="537" font-size="15" textLength="60" lengthAdjust="spacingAndGlyphs">VERIFIED,</text>
<text class="t" x="512" y="552" font-size="15" textLength="45" lengthAdjust="spacingAndGlyphs">PUBLIC</text>
<text class="t" x="512" y="567" font-size="15" textLength="34" lengthAdjust="spacingAndGlyphs">DATA.</text>

<text class="t" x="97" y="362" font-size="15" textLength="49" lengthAdjust="spacingAndGlyphs">FALSIFY</text>
<text class="t" x="97" y="377" font-size="15" textLength="29" lengthAdjust="spacingAndGlyphs">OWN</text>
<text class="t" x="97" y="392" font-size="15" textLength="39" lengthAdjust="spacingAndGlyphs">VOTE?</text>

<text class="t" x="224" y="632" font-size="15" textLength="80" lengthAdjust="spacingAndGlyphs">IMPOSSIBLE:</text>
<text class="t" x="224" y="648" font-size="15" textLength="97" lengthAdjust="spacingAndGlyphs">PUBLIC RECORD</text>
<text class="t" x="224" y="663" font-size="15" textLength="55" lengthAdjust="spacingAndGlyphs">IN EVERY</text>
<text class="t" x="224" y="678" font-size="15" textLength="78" lengthAdjust="spacingAndGlyphs">DEMOCRACY</text>

<text class="t" x="96" y="710" font-size="15" textLength="48" lengthAdjust="spacingAndGlyphs">FALSIFY</text>
<text class="t" x="96" y="725" font-size="15" textLength="72" lengthAdjust="spacingAndGlyphs">OWN VOTE?</text>

<text class="t" x="197" y="778" font-size="20" textLength="52" lengthAdjust="spacingAndGlyphs">VOTED</text>
<text class="t" x="197" y="807" font-size="38" textLength="36" lengthAdjust="spacingAndGlyphs">NO</text>

<text class="t" x="180" y="938" font-size="14" textLength="109" lengthAdjust="spacingAndGlyphs">CLAIM VOTED YES</text>
<text class="t" x="180" y="953" font-size="14" textLength="55" lengthAdjust="spacingAndGlyphs">WHEN NO:</text>
<text class="t" x="180" y="968" font-size="14" textLength="115" lengthAdjust="spacingAndGlyphs">EASILY DISPROVEN</text>

<text class="t" x="364" y="742" font-size="14" textLength="50" lengthAdjust="spacingAndGlyphs">EASY TO</text>
<text class="t" x="364" y="756" font-size="14" textLength="30" lengthAdjust="spacingAndGlyphs">FAKE</text>

<text class="t" x="416" y="892" font-size="16" textLength="99" lengthAdjust="spacingAndGlyphs">SELF-REPORTED</text>
<text class="t" x="416" y="907" font-size="16" textLength="107" lengthAdjust="spacingAndGlyphs">ESG COMPLIANCE</text>

<text class="t" x="505" y="804" font-size="13" textLength="58" lengthAdjust="spacingAndGlyphs">ORDERS OF</text>
<text class="t" x="505" y="818" font-size="13" textLength="62" lengthAdjust="spacingAndGlyphs">MAGNITUDE</text>
<text class="t" x="505" y="832" font-size="13" textLength="42" lengthAdjust="spacingAndGlyphs">HARDER</text>
<text class="t" x="505" y="846" font-size="13" textLength="46" lengthAdjust="spacingAndGlyphs">TO FAKE</text>

<text class="t" x="584" y="892" font-size="15" textLength="38" lengthAdjust="spacingAndGlyphs">PUBLIC</text>
<text class="t" x="582" y="907" font-size="15" textLength="94" lengthAdjust="spacingAndGlyphs">VOTING RECORDS</text>
<text class="t" x="678" y="892" font-size="15" textLength="50" lengthAdjust="spacingAndGlyphs">VERIFIED</text>
<text class="t" x="677" y="907" font-size="15" textLength="96" lengthAdjust="spacingAndGlyphs">FUNDING FLOWS</text>

<text class="t" x="512" y="948" font-size="21" textLength="414" lengthAdjust="spacingAndGlyphs">GAMING IS A RISK, BUT VOTES &amp; FUNDING FLOWS</text>
<text class="t" x="512" y="968" font-size="21" textLength="423" lengthAdjust="spacingAndGlyphs">ARE AMONG THE HARDEST METRICS TO GAME DUE</text>
<text class="t" x="512" y="988" font-size="21" textLength="374" lengthAdjust="spacingAndGlyphs">TO OFFICIAL TRACKING AND PUBLIC ACCESS</text>

<text class="t" x="922" y="277" font-size="14" textLength="57" lengthAdjust="spacingAndGlyphs">PRETEND</text>
<text class="t" x="922" y="292" font-size="14" textLength="57" lengthAdjust="spacingAndGlyphs">FUNDING</text>
<text class="t" x="922" y="307" font-size="14" textLength="52" lengthAdjust="spacingAndGlyphs">WHEN IT</text>
<text class="t" x="922" y="321" font-size="14" textLength="48" lengthAdjust="spacingAndGlyphs">DIDN'T?</text>

<text class="t" x="785" y="373" font-size="14" textLength="55" lengthAdjust="spacingAndGlyphs">PRETEND</text>
<text class="t" x="785" y="388" font-size="14" textLength="55" lengthAdjust="spacingAndGlyphs">FUNDING</text>
<text class="t" x="785" y="403" font-size="14" textLength="52" lengthAdjust="spacingAndGlyphs">FLOWED</text>

<text class="t" x="927" y="488" font-size="14" textLength="65" lengthAdjust="spacingAndGlyphs">TREASURY</text>
<text class="t" x="927" y="503" font-size="14" textLength="58" lengthAdjust="spacingAndGlyphs">RECORDS</text>
<text class="t" x="927" y="518" font-size="14" textLength="74" lengthAdjust="spacingAndGlyphs">ARE PUBLIC</text>

<text class="t" x="917" y="707" font-size="14" textLength="57" lengthAdjust="spacingAndGlyphs">PRETEND</text>
<text class="t" x="917" y="722" font-size="14" textLength="96" lengthAdjust="spacingAndGlyphs">FUNDING WHEN</text>
<text class="t" x="917" y="737" font-size="14" textLength="64" lengthAdjust="spacingAndGlyphs">IT DIDN'T?</text>

<text class="t" x="834" y="817" font-size="14" textLength="55" lengthAdjust="spacingAndGlyphs">FUNDING</text>
<text class="t" x="834" y="832" font-size="14" textLength="42" lengthAdjust="spacingAndGlyphs">FLOWS</text>

<text class="t" x="845" y="947" font-size="14" textLength="129" lengthAdjust="spacingAndGlyphs">TREASURY RECORDS:</text>
<text class="t" x="845" y="961" font-size="14" textLength="117" lengthAdjust="spacingAndGlyphs">PUBLICLY TRACKED</text>
</g>
</svg>
</body></html>
